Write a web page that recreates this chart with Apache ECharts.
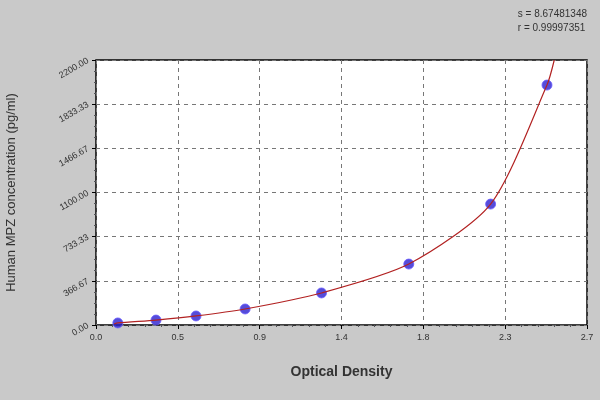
<!DOCTYPE html><html><head><meta charset="utf-8"><script src="https://cdn.jsdelivr.net/npm/echarts@6/dist/echarts.min.js"></script></head><body style="margin:0"><div id="c" style="width:600px;height:400px"></div><script>
const xTicks=[0,0.45,0.9,1.35,1.8,2.25,2.7];
const xLabels=['0.0','0.5','0.9','1.4','1.8','2.3','2.7'];
const yLabels=['0.00','366.67','733.33','1100.00','1466.67','1833.33','2200.00'];
const od=[0.12,0.33,0.55,0.82,1.24,1.72,2.17,2.48];
const conc=[17,41,75,133,266,506,1004,1992];
const curveX=[0.1,0.12,0.33,0.55,0.82,1.24,1.72,2.17,2.48,2.52];
const curveY=[8,17,41,75,133,266,506,1004,1992,2200];
const ch=echarts.init(document.getElementById('c'));
ch.setOption({backgroundColor:'#c9c9c9',animation:false,
grid:{left:96,right:13,top:60,bottom:75,outerBoundsMode:'none',containLabel:false,show:true,backgroundColor:'#fff',borderColor:'#000',borderWidth:1.5},
title:[{text:'s = 8.67481348\nr = 0.99997351',right:8,top:2,textStyle:{fontSize:10,fontWeight:'normal',color:'#333',lineHeight:14,fontFamily:'Arial',align:'right'}}],
xAxis:{type:'value',min:0,max:2.7,interval:0.45,name:'Optical Density',nameLocation:'middle',nameGap:40,nameTextStyle:{fontSize:14,fontWeight:'bold',color:'#333',fontFamily:'Arial'},
axisLine:{show:false},axisTick:{show:true,length:4,lineStyle:{color:'#000'}},minorTick:{show:true,splitNumber:5,length:2},
axisLabel:{fontSize:9,color:'#333',margin:8,formatter:v=>{const i=xTicks.findIndex(t=>Math.abs(t-v)<1e-6);return i>=0?xLabels[i]:'';}},
splitLine:{show:true,lineStyle:{type:[4,4],color:'#777'}}},
yAxis:{type:'value',min:0,max:2200,interval:2200/6,name:'Human MPZ concentration (pg/ml)',nameLocation:'middle',nameGap:78,nameTextStyle:{fontSize:13,color:'#333',fontFamily:'Arial'},
axisLine:{show:false},axisTick:{show:true,length:4,lineStyle:{color:'#000'}},minorTick:{show:true,splitNumber:4,length:2},
axisLabel:{fontSize:9,color:'#333',rotate:30,margin:8,formatter:v=>{const i=Math.round(v/(2200/6));return yLabels[i];}},
splitLine:{show:true,lineStyle:{type:[4,4],color:'#777'}}},
series:[{type:'line',data:curveX.map((x,i)=>[x,curveY[i]]),smooth:0.25,symbol:'none',lineStyle:{color:'#b22222',width:1.2},clip:true},
{type:'scatter',data:od.map((x,i)=>[x,conc[i]]),symbolSize:10,itemStyle:{color:'#2a1fd0',borderColor:'#6a5cff',borderWidth:1}}]});
</script></body></html>
